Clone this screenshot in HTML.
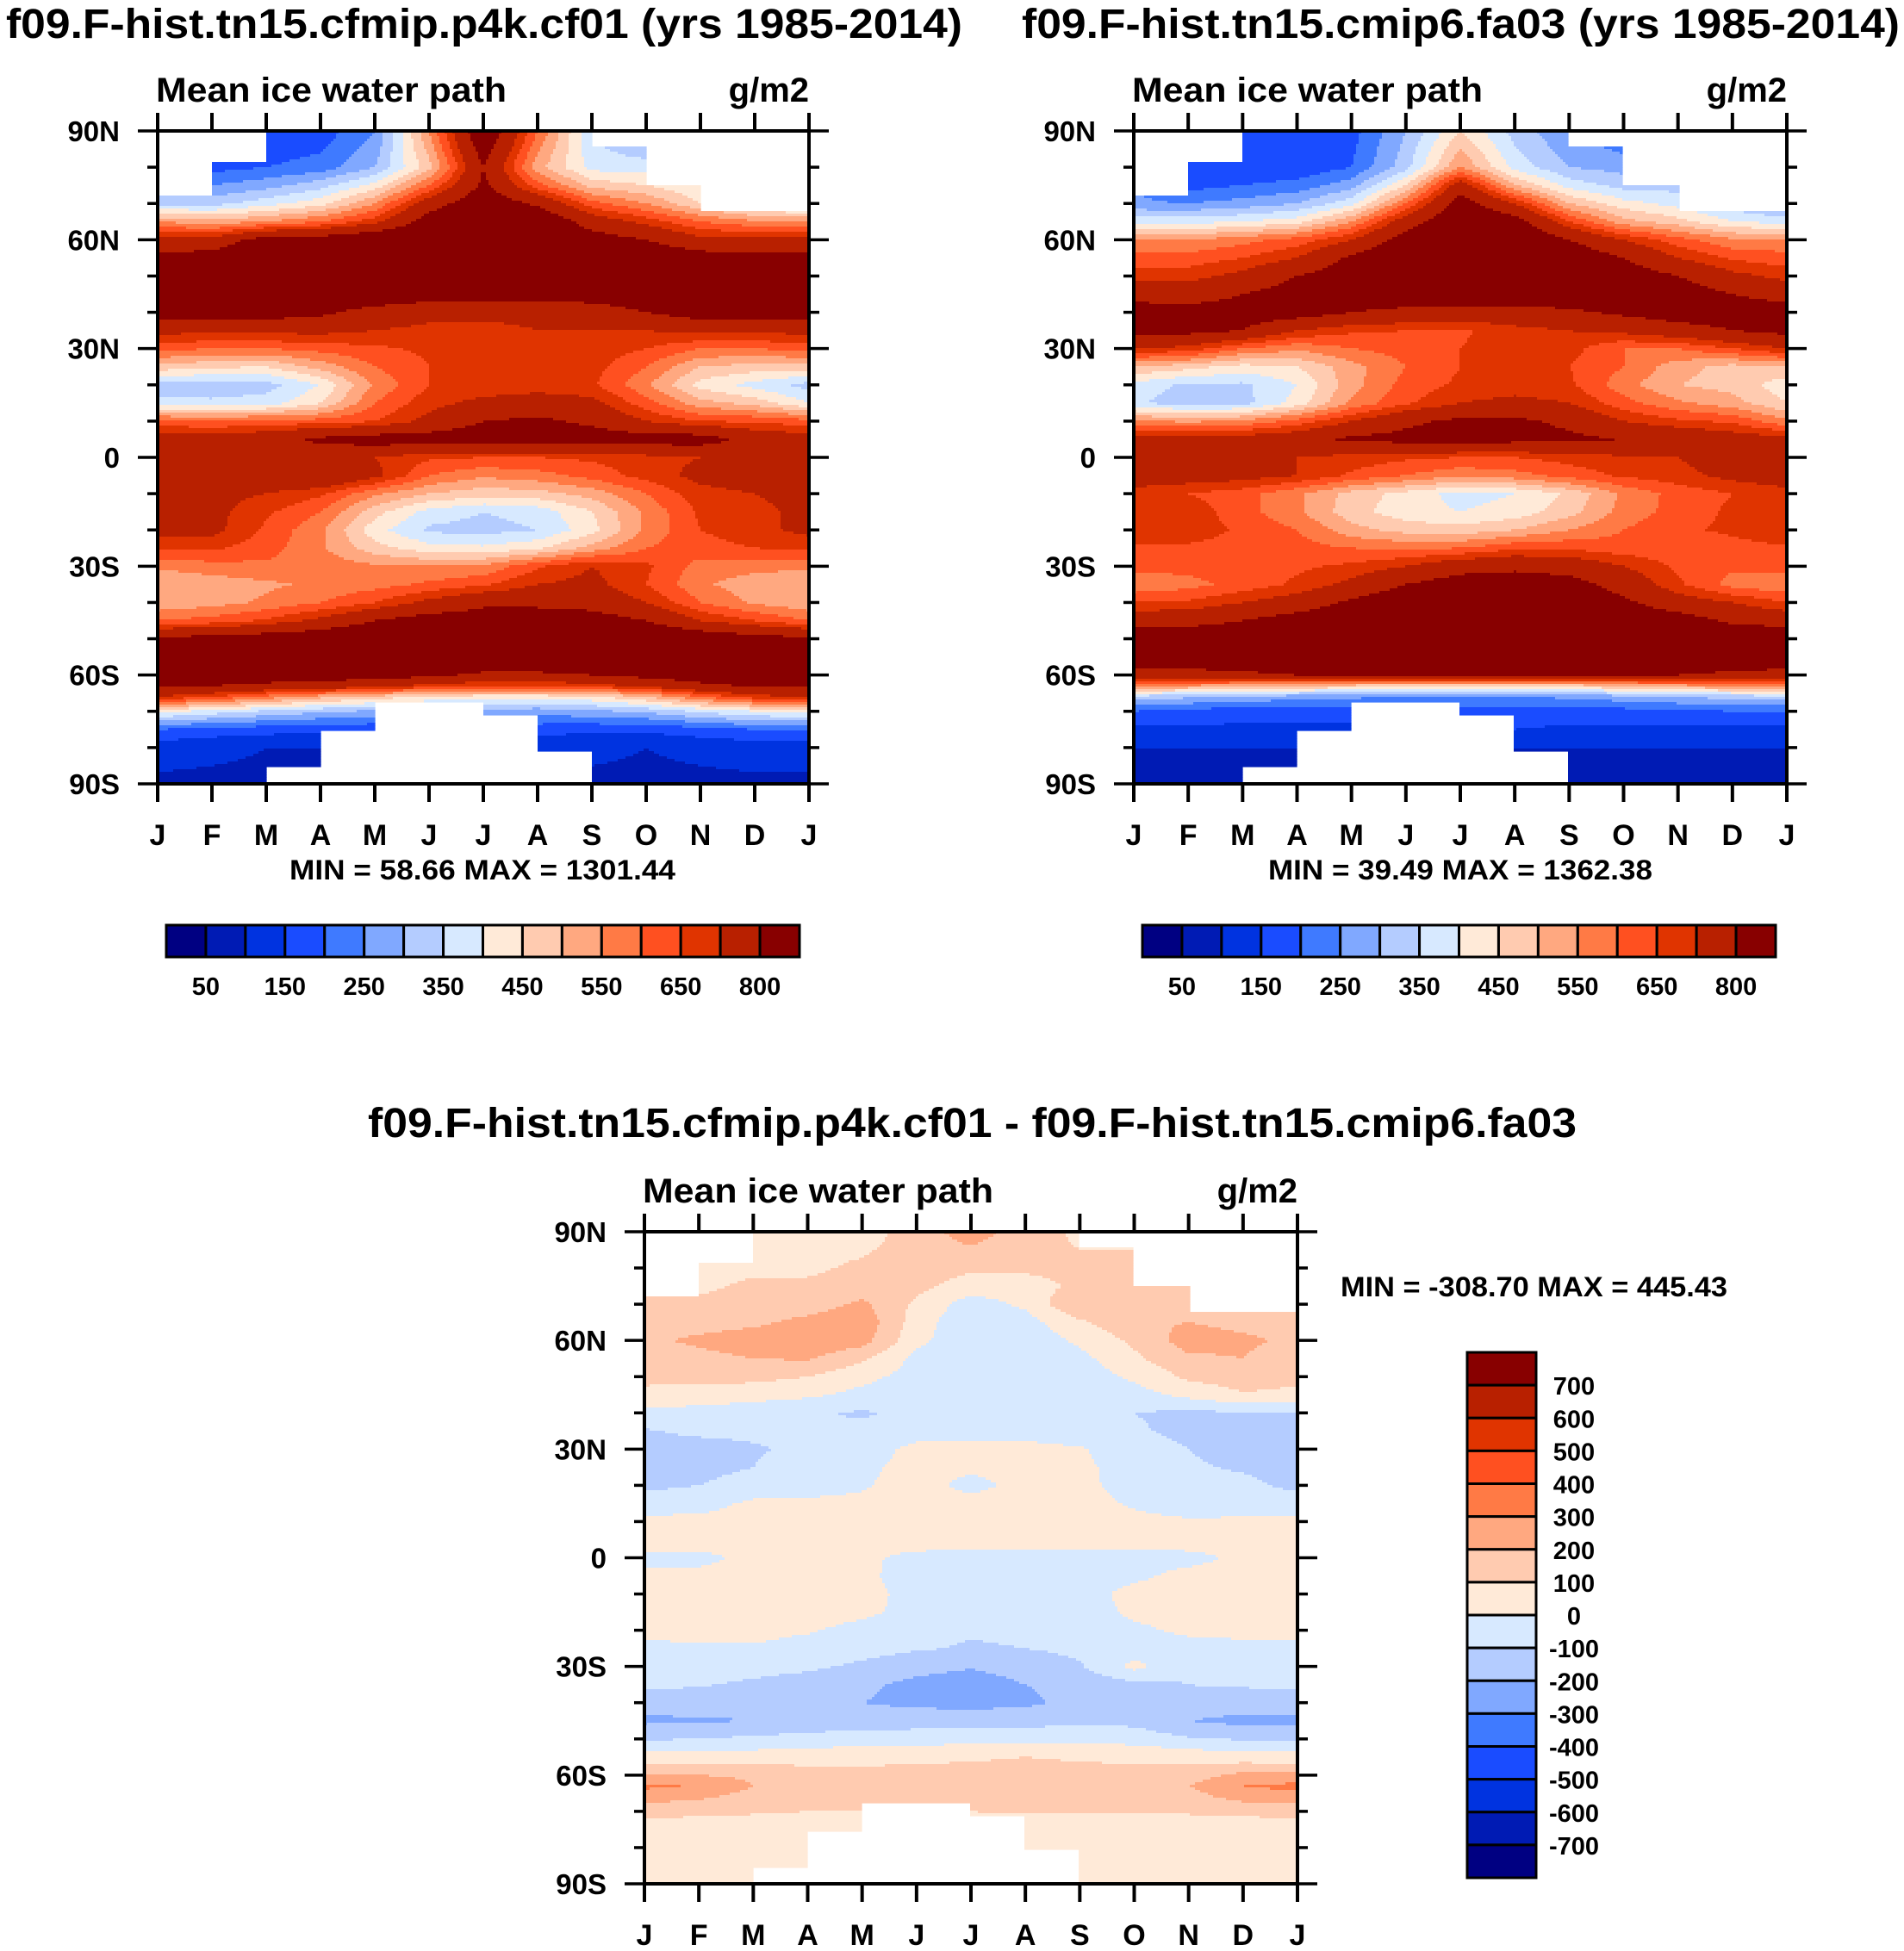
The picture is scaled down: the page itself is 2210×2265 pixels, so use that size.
<!DOCTYPE html>
<html><head><meta charset="utf-8"><style>
html,body{margin:0;padding:0;background:#fff;}
svg{display:block;}
text{font-family:"Liberation Sans",Arial,sans-serif;font-weight:bold;fill:#000;}
</style></head><body>
<svg id="fig" width="2210" height="2265" viewBox="0 0 2210 2265">
<rect x="0" y="0" width="2210" height="2265" fill="#fff"/>
<text x="7" y="44" font-size="48" textLength="1110" lengthAdjust="spacingAndGlyphs">f09.F-hist.tn15.cfmip.p4k.cf01 (yrs 1985-2014)</text>
<text x="1186" y="44" font-size="48" textLength="1019" lengthAdjust="spacingAndGlyphs">f09.F-hist.tn15.cmip6.fa03 (yrs 1985-2014)</text>
<text x="427" y="1320" font-size="48" textLength="1403" lengthAdjust="spacingAndGlyphs">f09.F-hist.tn15.cfmip.p4k.cf01 - f09.F-hist.tn15.cmip6.fa03</text>
<g id="p1"></g>
<g id="p2"></g>
<g id="p3"></g>
<text x="560" y="1021" font-size="32" text-anchor="middle" textLength="448" lengthAdjust="spacingAndGlyphs">MIN =  58.66 MAX = 1301.44</text>
<text x="1695" y="1021" font-size="32" text-anchor="middle" textLength="446" lengthAdjust="spacingAndGlyphs">MIN =  39.49 MAX = 1362.38</text>
<text x="1556" y="1505" font-size="32" textLength="449" lengthAdjust="spacingAndGlyphs">MIN = -308.70 MAX = 445.43</text>
<g id="cb1"></g>
<g id="cb2"></g>
<g id="cb3"></g>
</svg>
<script>
const months = ["J","F","M","A","M","J","J","A","S","O","N","D","J"];
const lats = [90,80,75,70,65,60,55,50,45,40,35,30,25,20,15,10,5,0,-5,-10,-15,-20,-25,-30,-35,-40,-45,-50,-55,-60,-63,-66,-70,-75,-80,-90];
const northCut = [72,81.5,90,90,90,90,90,90,86,75,68,68];
const southCut = [-90,-90,-85.5,-75.3,-67.6,-67.6,-71.3,-80.7,-90,-90,-90,-90];
const colors = ["#000082","#001bb4","#0033e0","#1a4cff","#3f7aff","#80a8ff","#b4ccff","#d7e9ff","#ffead8","#ffcbb0","#ffa880","#ff7a45","#ff5020","#e03400","#b82000","#880000"];
const levelsAbs = [50,100,150,200,250,300,350,400,450,500,550,600,650,700,800];
const labelsAbs = ["50","150","250","350","450","550","650","800"];
const levelsDiff = [-700,-600,-500,-400,-300,-200,-100,0,100,200,300,400,500,600,700];
const labelsDiff = ["700","600","500","400","300","200","100","0","-100","-200","-300","-400","-500","-600","-700"];
const yTickLabels = ["90N","60N","30N","0","30S","60S","90S"];
const F = (v)=>Array(13).fill(v);
const gridCf01 = [
[150,150,150,170,250,550,900,600,350,250,250,200,150],
[200,180,200,220,300,480,800,520,380,380,300,250,200],
[300,250,280,330,420,600,820,620,480,450,400,300,300],
[330,330,380,430,550,750,880,780,620,550,450,380,330],
[550,520,550,600,680,850,950,900,750,680,600,560,550],
[720,730,850,850,900,900,900,900,850,800,720,720,720],
[830,850,900,900,900,900,900,900,900,880,850,830,830],
F(900),
[900,900,900,900,880,850,850,840,860,880,900,900,900],
[850,850,850,820,760,730,720,720,740,800,850,850,850],
[720,720,720,720,700,680,680,700,700,700,720,720,720],
[620,600,600,620,640,660,680,690,680,650,600,600,620],
[480,460,450,520,600,650,670,680,670,600,500,480,480],
[330,320,330,400,560,650,660,670,660,560,430,380,330],
[360,360,370,450,600,680,720,740,720,620,520,480,400],
[620,600,620,620,650,720,800,820,780,700,650,640,620],
[740,740,760,820,850,850,860,860,850,850,850,760,740],
[740,740,730,740,700,660,650,650,660,680,700,740,740],
[740,740,750,800,720,600,560,580,620,670,720,740,740],
[730,720,700,660,560,500,470,480,520,600,680,700,730],
[720,720,660,600,470,380,350,370,450,560,660,680,720],
[720,720,640,560,420,340,330,350,430,560,650,680,720],
[660,660,620,560,470,420,410,440,520,600,630,650,660],
[560,580,590,580,560,550,560,640,700,660,580,570,560],
[500,520,540,560,580,610,640,700,720,650,560,520,500],
[510,530,560,600,650,720,780,780,760,700,600,540,510],
[600,620,660,720,800,850,850,850,850,800,700,650,600],
[820,840,860,880,900,900,900,900,900,900,880,840,820],
F(900),
[850,850,850,850,850,820,780,780,800,830,850,850,850],
[820,800,780,760,720,680,650,650,670,720,780,810,820],
[700,650,580,520,480,440,420,420,440,500,600,680,700],
[420,380,340,310,290,280,280,270,290,310,360,400,420],
[200,180,170,160,160,170,180,170,160,160,180,200,200],
[120,110,100,100,100,100,100,110,110,100,110,120,120],
F(90)];
const gridFa03 = [
[250,200,150,150,180,300,450,330,250,200,250,250,250],
[250,160,150,160,200,330,550,380,300,280,300,300,250],
[250,180,200,220,280,450,750,500,380,330,330,300,250],
[260,250,270,300,380,600,850,700,500,420,380,320,260],
[380,380,400,430,550,750,900,850,650,520,470,400,380],
[560,550,580,620,700,850,900,900,800,700,620,560,560],
[620,620,650,700,820,900,900,900,880,800,700,640,620],
[680,680,720,800,860,900,900,900,900,860,800,720,680],
[760,740,800,850,880,880,880,880,880,880,860,800,760],
[850,850,850,850,800,770,760,760,780,820,850,850,850],
[830,830,800,700,660,650,640,680,700,720,760,800,830],
[700,680,600,560,600,620,650,680,670,600,600,650,700],
[500,470,430,450,530,600,650,660,650,600,520,480,500],
[380,340,340,400,530,620,660,670,660,570,500,480,420],
[360,320,330,420,560,640,700,720,700,620,560,520,450],
[560,540,560,620,700,780,820,820,780,700,660,640,560],
[730,730,740,760,820,830,840,830,820,800,780,740,730],
[730,740,720,700,680,660,650,650,670,690,700,740,730],
[740,740,730,700,640,600,560,580,620,660,680,720,740],
[680,650,620,560,480,430,380,400,460,560,620,650,680],
[700,680,620,560,470,420,400,420,480,570,620,660,700],
[700,680,640,600,520,480,470,500,550,600,640,660,700],
[640,640,630,620,600,590,600,640,640,620,620,630,640],
[620,620,640,640,660,700,760,780,760,700,640,610,620],
[560,580,620,660,720,800,850,850,840,760,660,580,560],
[650,660,700,740,820,880,880,880,880,820,740,700,650],
[760,760,800,850,880,900,900,900,900,880,850,780,760],
F(880),
F(880),
[760,760,780,800,820,830,830,830,830,820,800,780,760],
[560,540,520,500,480,460,460,460,470,500,530,550,560],
[330,310,290,270,260,250,250,250,260,280,300,320,330],
[200,180,170,170,170,180,180,180,180,180,190,200,200],
[140,140,140,140,140,140,150,150,140,140,140,140,140],
F(100),
F(70)];
const gridDiff = [
[50,50,50,50,50,150,250,150,80,80,50,50,50],
[50,50,80,80,120,150,120,120,120,120,80,80,50],
[80,80,120,120,150,130,50,60,120,120,120,120,80],
[120,120,130,150,220,80,-50,20,200,130,130,130,120],
[150,160,180,230,270,50,-80,-40,80,180,200,170,150],
[180,220,250,280,240,30,-80,-70,20,120,250,220,180],
[130,170,200,210,120,-30,-80,-80,-30,80,180,200,130],
[120,130,130,100,30,-40,-80,-80,-60,20,120,150,120],
[80,60,40,20,-30,-60,-80,-80,-70,-40,30,90,80],
[-30,-40,-60,-90,-110,-80,-60,-60,-70,-100,-120,-110,-100],
[-110,-80,-80,-90,-80,-50,-40,-40,-60,-90,-120,-130,-120],
[-130,-140,-110,-80,-50,30,30,30,10,-60,-100,-130,-140],
[-140,-130,-100,-60,-20,30,20,30,20,-40,-90,-110,-130],
[-120,-100,-60,-40,-10,40,-30,30,20,-30,-60,-80,-120],
[-60,-40,20,20,20,40,40,40,30,-10,-40,-60,-60],
[30,30,40,40,40,40,40,40,40,20,10,20,20],
[50,50,50,50,50,50,60,50,50,50,50,50,50],
[-30,-30,30,30,20,-30,-40,-40,-40,-40,-30,20,20],
[30,30,40,40,20,-40,-50,-50,-40,-20,30,40,40],
[50,50,50,50,30,-30,-50,-50,-40,30,50,50,50],
[50,50,50,40,20,-30,-60,-60,-50,20,40,50,50],
[40,40,30,10,-30,-70,-90,-80,-60,-20,20,40,40],
[-30,-20,-10,-40,-60,-90,-110,-100,-80,-50,-40,-40,-30],
[-60,-50,-60,-80,-120,-160,-190,-150,-110,30,-80,-70,-60],
[-80,-90,-120,-150,-180,-230,-260,-200,-170,-130,-100,-90,-80],
[-150,-160,-170,-180,-200,-220,-230,-220,-170,-130,-130,-150,-150],
[-220,-210,-200,-170,-160,-150,-150,-140,-120,-130,-200,-230,-220],
[-110,-100,-80,-60,-50,-40,-40,-30,-30,-40,-90,-110,-110],
[40,40,50,60,70,80,90,100,90,80,70,40,40],
[220,200,180,140,130,130,130,130,130,130,150,230,220],
[320,290,200,150,140,130,130,130,130,140,200,300,330],
[250,220,160,130,130,130,130,130,130,130,160,240,270],
[130,120,110,100,100,100,100,110,110,110,110,120,130],
F(50),F(50),F(50)];

const NS="http://www.w3.org/2000/svg";
function mk(tag, attrs, parent){const e=document.createElementNS(NS,tag);for(const k in attrs)e.setAttribute(k,attrs[k]);parent.appendChild(e);return e;}

function sample(grid, m, lat){
  let i=0; while(i<lats.length-2 && lat<lats[i+1]) i++;
  const ty=(lats[i]-lat)/(lats[i]-lats[i+1]);
  let j=Math.min(11,Math.max(0,Math.floor(m))); const tx=m-j;
  const a=grid[i][j]*(1-tx)+grid[i][j+1]*tx;
  const b=grid[i+1][j]*(1-tx)+grid[i+1][j+1]*tx;
  return a*(1-ty)+b*ty;
}
function levelIndex(v, levels){let k=0;while(k<levels.length && v>=levels[k])k++;return k;}

function drawPanel(g, x0, y0, w, h, grid, levels){
  const xs=(m)=>x0+m/12*w, ys=(lat)=>y0+(90-lat)/180*h;
  const step=3;
  const field=mk('g',{},g);
  
  
  for(let py=0; py<h; py+=step){
    const lat=90-(py+step/2)/h*180;
    let runStart=-1, runC=-1;
    const flush=(end)=>{ if(runC>=0){ const r=mk('rect',{x:x0+runStart,y:y0+py,width:end-runStart+0.6,height:step+0.6,fill:colors[runC]},field);   } };
    for(let px=0; px<w; px+=step){
      const m=(px+step/2)/w*12;
      const mi=Math.min(11,Math.floor(m));
      let c=-1;
      if(!(lat>northCut[mi]||lat<southCut[mi])) c=levelIndex(sample(grid,m,lat),levels);
      if(c!==runC){ flush(px); runStart=px; runC=c; }
    }
    flush(w);
  }
  const fr=mk('rect',{x:x0,y:y0,width:w,height:h,fill:'none',stroke:'#000','stroke-width':4},g);
   
  months.forEach((lab,i)=>{
    const x=xs(i);
    mk('line',{x1:x,y1:y0,x2:x,y2:y0-21,stroke:'#000','stroke-width':4},g);
    mk('line',{x1:x,y1:y0+h,x2:x,y2:y0+h+21,stroke:'#000','stroke-width':4},g);
    const t=mk('text',{x:x,y:y0+h+71,'font-size':34,'text-anchor':'middle'},g);
    t.textContent=lab;
     
  });
  for(let lat=90; lat>=-90; lat-=10){
    const y=ys(lat), major=(lat%30===0), L=major?23:12;
    mk('line',{x1:x0,y1:y,x2:x0-L,y2:y,stroke:'#000','stroke-width':3.5},g);
    mk('line',{x1:x0+w,y1:y,x2:x0+w+L,y2:y,stroke:'#000','stroke-width':3.5},g);
  }
  yTickLabels.forEach((lab,i)=>{
    const t=mk('text',{x:x0-44,y:ys(90-i*30)+12,'font-size':33,'text-anchor':'end'},g);
    t.textContent=lab;
     
  });
  const s1=mk('text',{x:x0-2,y:y0-34,'font-size':40,textLength:407,lengthAdjust:'spacingAndGlyphs'},g);
  s1.textContent='Mean ice water path';
   
  const s2=mk('text',{x:x0+w,y:y0-34,'font-size':40,'text-anchor':'end'},g);
  s2.textContent='g/m2';
   
}

function hColorbar(g,x0,y0,w,h,labels){
  const bw=w/colors.length;
  colors.forEach((c,i)=>{
    const r=mk('rect',{x:x0+i*bw,y:y0,width:bw,height:h,fill:c,stroke:'#000','stroke-width':3},g);
     
  });
  labels.forEach((lab,k)=>{
    const t=mk('text',{x:x0+(2*k+1)*bw,y:y0+h+44,'font-size':29,'text-anchor':'middle'},g);
    t.textContent=lab;
     
  });
}
function vColorbar(g,x0,y0,w,h,labels){
  const bh=h/colors.length;
  for(let i=0;i<colors.length;i++){
    const r=mk('rect',{x:x0,y:y0+i*bh,width:w,height:bh,fill:colors[colors.length-1-i],stroke:'#000','stroke-width':3},g);
     
  }
  labels.forEach((lab,k)=>{
    const t=mk('text',{x:x0+w+44,y:y0+(k+1)*bh+11,'font-size':29,'text-anchor':'middle'},g);
    t.textContent=lab;
     
  });
}

drawPanel(document.getElementById('p1'),183,152,756,758,gridCf01,levelsAbs);
drawPanel(document.getElementById('p2'),1316,152,758,758,gridFa03,levelsAbs);
drawPanel(document.getElementById('p3'),748,1430,758,757,gridDiff,levelsDiff);
hColorbar(document.getElementById('cb1'),193,1074,735,37,labelsAbs);
hColorbar(document.getElementById('cb2'),1326,1074,735,37,labelsAbs);
vColorbar(document.getElementById('cb3'),1703,1570,80,610,labelsDiff);
</script>
</body></html>
